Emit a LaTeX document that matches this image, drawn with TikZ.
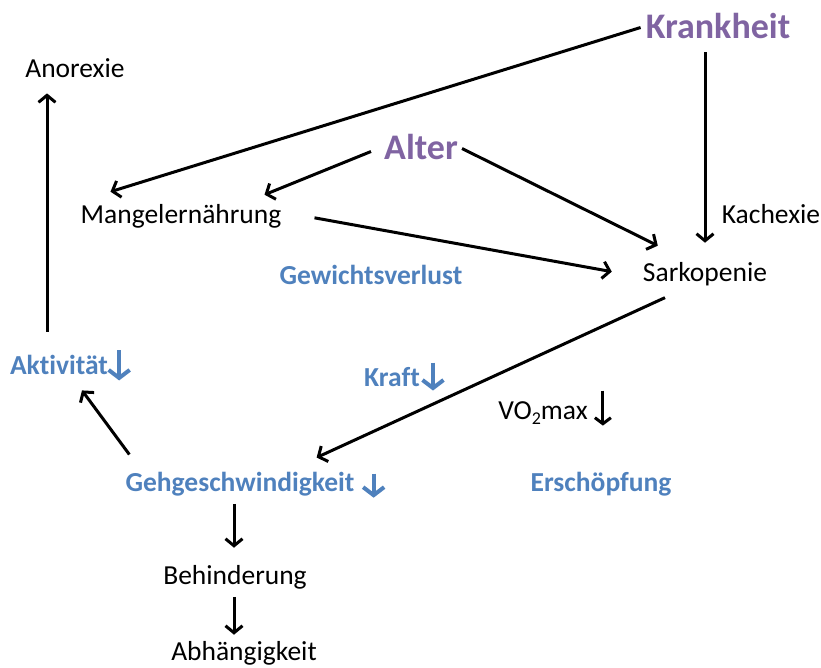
\documentclass[tikz,border=0pt]{standalone}
\usepackage{fontspec}
\setmainfont{Carlito}[Ligatures=NoCommon]
\usepackage{tikz}
\usetikzlibrary{arrows.meta,calc,positioning}
\definecolor{accblue}{HTML}{4F81BD}
\definecolor{accpurple}{HTML}{8064A2}

\begin{document}
\begin{tikzpicture}[x=1pt, y=-1pt, >=Straight Barb]

\useasboundingbox (0,0) rectangle (821,667);

\tikzset{
  lbl/.style={inner sep=0pt, anchor=base, font=\fontsize{27.5}{33}\selectfont},
  bluelbl/.style={lbl, text=accblue, font=\fontsize{27.5}{33}\selectfont\bfseries},
  headlbl/.style={inner sep=0pt, anchor=base, text=accpurple, font=\fontsize{36}{40}\selectfont\bfseries},
  arr/.style={line width=3pt, -{Straight Barb[length=7pt, width=17pt]}},
  downarr/.style={line width=4pt, draw=accblue, -{Straight Barb[length=8pt, width=21pt]}}
}

\node[headlbl] (krank)  at (718,38)  {Krankheit};
\node[headlbl] (alter)  at (421,159) {Alter};

\node[lbl]     (anor)   at (75,77)   {Anorexie};
\node[lbl]     (mangel) at (181,223) {Mangelernährung};
\node[lbl]     (kach)   at (771,223) {Kachexie};
\node[lbl]     (sark)   at (705,281) {Sarkopenie};
\node[lbl]     (vo2)    at (543,419) {VO\raisebox{-5pt}{\fontsize{18}{20}\selectfont 2}max};
\node[lbl]     (beh)    at (235,584) {Behinderung};
\node[lbl]     (abh)    at (244,660) {Abhängigkeit};

\node[bluelbl] (gew)    at (371,284) {Gewichtsverlust};
\node[bluelbl] (akt)    at (59,374)  {Aktivität};
\node[bluelbl] (kraft)  at (392,386) {Kraft};
\node[bluelbl] (geh)    at (240,491) {Gehgeschwindigkeit};
\node[bluelbl] (ersch)  at (601,491) {Erschöpfung};

% causes
\draw[arr] ($(krank.west)+(-5,2)$) -- ($(mangel.north west)+(30,-12)$);
\draw[arr] ($(alter.west)+(-13,5)$) -- ($(mangel.north east)+(-17,-9)$);
\draw[arr] ($(alter.east)+(4,2)$) -- ($(sark.north west)+(15,-16)$);
\draw[arr] ($(mangel.east)+(33,2)$) -- ($(sark.west)+(-31,-2)$);
\draw[arr] ($(krank.south -| sark.north)+(0,14)$) -- ($(sark.north)+(0,-19)$);

% consequences
\draw[arr] ($(sark.south)+(-40,12)$) -- ($(geh.north east)+(-38,-14)$);
\draw[arr] ($(geh.north west)+(4,-17)$) -- ($(akt.south)+(23,16)$);
\draw[arr] ($(akt.north)+(-12,-23)$) -- ($(anor.south)+(-28,16)$);
\draw[arr] ($(geh.south)+(-6,8)$) -- ($(beh.north)+(-1,-17)$);
\draw[arr] ($(beh.south)+(-1,8)$) -- ($(abh.north)+(-10,-6)$);

% decrease marks
\draw[downarr] ($(akt.east)+(11,-14)$) -- ($(akt.east)+(11,16)$);
\draw[downarr] ($(kraft.east)+(13,-14)$) -- ($(kraft.east)+(13,14)$);
\draw[downarr] ($(geh.east)+(19,-10)$) -- ($(geh.east)+(19,14)$);
\draw[line width=3pt, -{Straight Barb[length=6pt, width=16pt]}]
      ($(vo2.east)+(15,-22)$) -- ($(vo2.east)+(15,13)$);

\end{tikzpicture}
\end{document}
